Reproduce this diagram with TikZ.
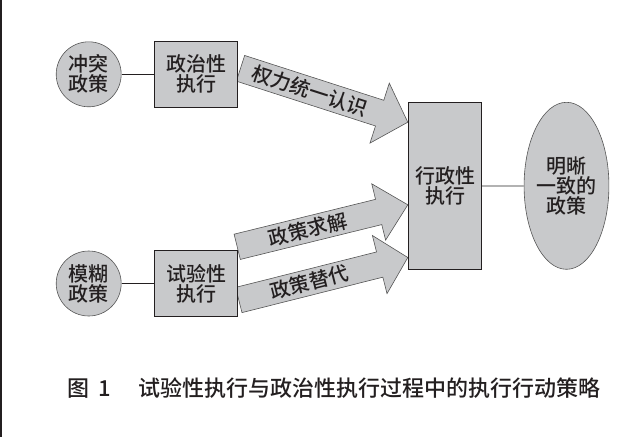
\documentclass[tikz,border=0pt]{standalone}
\usepackage{fontspec}
\usetikzlibrary{calc,shapes.geometric,backgrounds}
\IfFontExistsTF{Noto Sans CJK SC Medium}
  {\newfontfamily\cjk{Noto Sans CJK SC Medium}}
  {\newfontfamily\cjk{Noto Sans CJK SC}[FakeBold=0.6]}
\definecolor{fillg}{RGB}{200,201,203}
\definecolor{ink}{RGB}{35,31,32}
\definecolor{edgeg}{RGB}{85,85,85}
\definecolor{lineg}{RGB}{178,178,178}
\tikzset{
  txt/.style={font=\cjk\fontsize{20}{20}\selectfont, text=ink, align=center},
  circ/.style={txt, circle, draw=edgeg, fill=fillg, line width=0.6pt, minimum size=65pt, inner sep=0pt},
  boxn/.style={txt, rectangle, draw=ink, fill=fillg, line width=1pt, minimum width=83.4pt, minimum height=66pt, inner sep=0pt},
  ell/.style={txt, ellipse, draw=edgeg, fill=fillg, line width=0.6pt, minimum width=84.4pt, minimum height=167pt, inner sep=0pt},
  arr/.style={draw=edgeg, fill=fillg, line width=0.6pt, line join=miter},
  lbl/.style={txt, inner sep=0pt},
  conn/.style={draw=ink, line width=1pt},
  connlight/.style={draw=lineg, line width=1.5pt}
}
% #1 start, #2 tip, #3 half shaft, #4 half head, #5 head length, #6 label, #7 name
\newcommand\fatarrow[7]{%
  \coordinate (#7b) at ($(#2)!#5!(#1)$);
  \draw[arr] ($(#1)!#3!90:(#2)$) -- ($(#7b)!#3!90:(#2)$) -- ($(#7b)!#4!90:(#2)$) -- (#2)
    -- ($(#7b)!#4!-90:(#2)$) -- ($(#7b)!#3!-90:(#2)$) -- ($(#1)!#3!-90:(#2)$) -- cycle;
  \path (#1) -- (#7b) node[midway, sloped, lbl] {#6};
}
\begin{document}
\begin{tikzpicture}[x=1pt,y=-1pt]
\useasboundingbox (0,0) rectangle (639,437);
\draw[draw=ink, line width=1.6pt] (0.8,0) -- (0.8,437);

\node[circ] (c1) at (88.7,74.3) {冲突\\政策};
\node[boxn] (b1) at (196,74.3) {政治性\\执行};
\node[circ] (c2) at (88.7,283.5) {模糊\\政策};
\node[boxn] (b2) at (196,283.5) {试验性\\执行};
\node[boxn, minimum width=73.4pt, minimum height=167pt] (b3) at (445,185.8) {行政性\\执行};
\node[ell] (e) at (566.5,185.8) {明晰\\一致的\\政策};

\draw[conn] (c1) -- (b1);
\draw[conn] (c2) -- (b2);
\draw[connlight] (b3) -- (e);

\coordinate (a1s) at ($(b1.east)+(2.3,-6)$);
\coordinate (a1t) at ($(b3.north west)+(0,20.4)$);
\coordinate (a2s) at ($(b2.north east)+(-1,-3.2)$);
\coordinate (a2t) at ($(b3.north west)+(0,103)$);
\coordinate (a3s) at ($(b2.east)+(0.6,16.5)$);
\coordinate (a3t) at ($(b3.south west)+(0,-12.3)$);

\begin{pgfonlayer}{background}
\fatarrow{a1s}{a1t}{13.5pt}{31.5pt}{29.6pt}{权力统一认识}{a1}
\fatarrow{a2s}{a2t}{13pt}{29pt}{30pt}{政策求解}{a2}
\fatarrow{a3s}{a3t}{13pt}{30pt}{29pt}{政策替代}{a3}
\end{pgfonlayer}

\node[font=\cjk\fontsize{22}{22}\selectfont, text=ink, anchor=base west, inner sep=0pt] (cap) at (67,396.5)
  {\makebox[31pt][l]{图}\makebox[40pt][l]{1}试验性执行与政治性执行过程中的执行行动策略};
\end{tikzpicture}
\end{document}
